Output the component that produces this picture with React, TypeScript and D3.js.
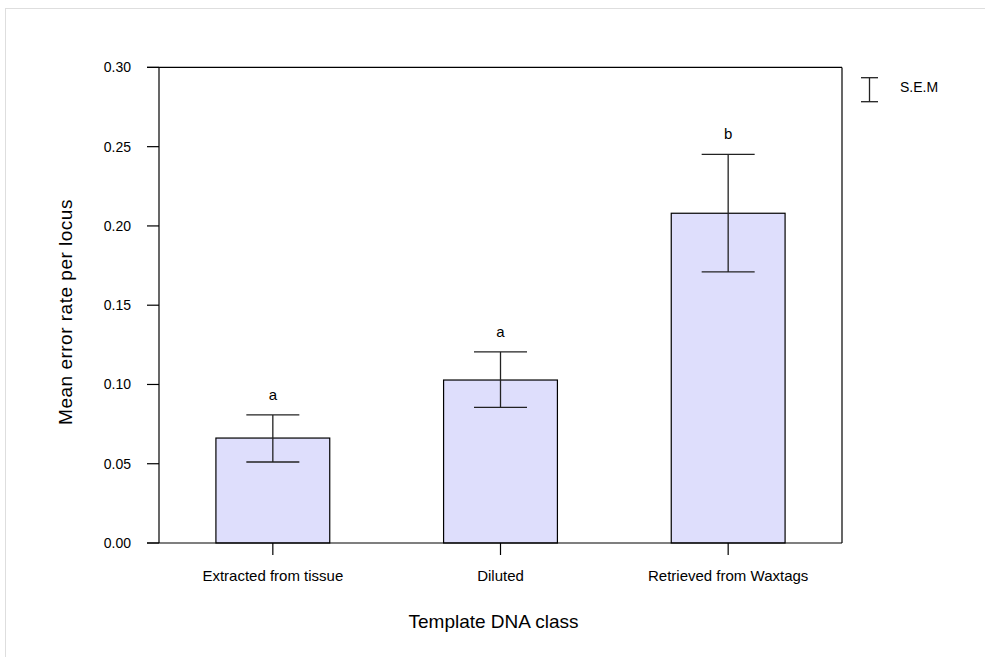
import React from "react";
import * as d3 from "d3";

const categories = ["Extracted from tissue", "Diluted", "Retrieved from Waxtags"];
const means = [0.0662, 0.1028, 0.208];
const lowerErr = [0.0511, 0.0856, 0.171];
const upperErr = [0.0808, 0.1205, 0.2452];
const groupLetters = ["a", "a", "b"];
const yTicks = [0, 0.05, 0.1, 0.15, 0.2, 0.25, 0.3];

const W = 985;
const H = 657;
const left = 159;
const right = 842;
const top = 67.4;
const bottom = 543;
const FONT = "'Liberation Sans', Arial, Helvetica, sans-serif";

export default function App() {
  const x = d3.scaleBand<string>().domain(categories).range([left, right]).paddingInner(0.5).paddingOuter(0.25);
  const y = d3.scaleLinear().domain([0, 0.3]).range([bottom, top]);
  const bw = x.bandwidth();
  const capHalf = 26.5;

  return (
    <svg width={W} height={H} style={{ position: "absolute", left: 0, top: 0, background: "#fff" }} fontFamily={FONT}>
      <rect x={5.5} y={8.5} width={1000} height={700} fill="none" stroke="#dedede" />
      {/* bars */}
      {categories.map((c, i) => {
        const cx = (x(c) as number) + bw / 2;
        return (
          <g key={c}>
            <rect x={x(c)} y={y(means[i])} width={bw} height={bottom - y(means[i])} fill="#dedefc" stroke="#000" strokeWidth={1.2} />
            <line x1={cx} x2={cx} y1={y(upperErr[i])} y2={y(lowerErr[i])} stroke="#222" strokeWidth={1.3} />
            <line x1={cx - capHalf} x2={cx + capHalf} y1={y(upperErr[i])} y2={y(upperErr[i])} stroke="#222" strokeWidth={1.3} />
            <line x1={cx - capHalf} x2={cx + capHalf} y1={y(lowerErr[i])} y2={y(lowerErr[i])} stroke="#222" strokeWidth={1.3} />
            <text x={cx} y={y(upperErr[i]) - 15} textAnchor="middle" fontSize={15} fill="#000">{groupLetters[i]}</text>
            <line x1={cx} x2={cx} y1={bottom} y2={bottom + 12} stroke="#000" strokeWidth={1.2} />
            <text x={cx} y={581} textAnchor="middle" fontSize={15} fill="#000">{c}</text>
          </g>
        );
      })}
      {/* frame */}
      <line x1={left} x2={left} y1={top} y2={bottom} stroke="#000" strokeWidth={1.2} />
      <line x1={right} x2={right} y1={top} y2={bottom} stroke="#000" strokeWidth={1.2} />
      <line x1={left - 12} x2={right} y1={top} y2={top} stroke="#000" strokeWidth={1.2} />
      <line x1={left - 12} x2={right} y1={bottom} y2={bottom} stroke="#000" strokeWidth={1.2} />
      {/* y ticks */}
      {yTicks.map((t) => (
        <g key={t}>
          <line x1={left - 12} x2={left} y1={y(t)} y2={y(t)} stroke="#000" strokeWidth={1.2} />
          <text x={131} y={y(t) + 5} textAnchor="end" fontSize={14} fill="#000">{d3.format(".2f")(t)}</text>
        </g>
      ))}
      {/* axis titles */}
      <text x={(left + right) / 2 - 7} y={628} textAnchor="middle" fontSize={19} fill="#000">Template DNA class</text>
      <text transform={`translate(72,312) rotate(-90)`} textAnchor="middle" fontSize={19} letterSpacing={0.5} fill="#000">Mean error rate per locus</text>
      {/* SEM legend */}
      <line x1={869.5} x2={869.5} y1={77.7} y2={101.7} stroke="#222" strokeWidth={1.3} />
      <line x1={861} x2={878} y1={77.7} y2={77.7} stroke="#222" strokeWidth={1.3} />
      <line x1={861} x2={878} y1={101.7} y2={101.7} stroke="#222" strokeWidth={1.3} />
      <text x={900} y={92} fontSize={14} fill="#000">S.E.M</text>
    </svg>
  );
}
